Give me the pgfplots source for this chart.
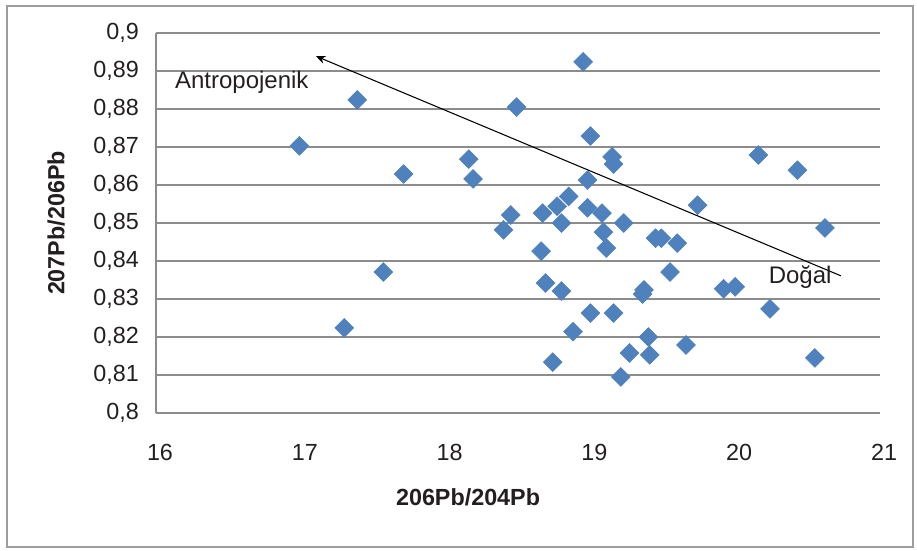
\documentclass[border=0pt]{standalone}
\usepackage{pgfplots}
\pgfplotsset{compat=1.18}
\usepackage{fontspec}
\setmainfont{Liberation Sans}
\usetikzlibrary{arrows.meta}
\definecolor{mk}{RGB}{79,129,189}
\definecolor{gr}{RGB}{140,140,140}
\definecolor{txt}{RGB}{35,31,32}
\begin{document}
\begin{tikzpicture}[x=0.75pt,y=0.75pt]
\useasboundingbox (-156,-137) rectangle (761,413);
\draw[gr!85, line width=1.5pt] (-149,-134) rectangle (757,407);
\begin{axis}[at={(0,0)}, anchor=south west, scale only axis,
  width=543pt, height=285pt,
  xmin=16, xmax=21, ymin=0.8, ymax=0.9,
  xtick={16,17,18,19,20,21},
  ytick={0.8,0.81,0.82,0.83,0.84,0.85,0.86,0.87,0.88,0.89,0.9},
  /pgf/number format/assume math mode=true,
  yticklabel style={/pgf/number format/use comma, /pgf/number format/fixed, /pgf/number format/precision=2},
  xticklabel style={anchor=center, yshift=-29.25pt, xshift=3pt},
  yticklabel style={anchor=east, inner sep=0pt, xshift=-12.75pt},
  major tick length=0pt,
  axis x line*=bottom, axis y line*=left,
  axis line style={gr, line width=1.5pt, -},
  ymajorgrids, grid style={gr, line width=1.3pt},
  tick label style={font=\fontsize{17.5}{20}\selectfont, text=txt},
  xlabel={206Pb/204Pb},
  ylabel={207Pb/206Pb},
  every axis x label/.style={at={(axis description cs:0.431,-0.221)}, anchor=center,
    font=\fontsize{17.5}{20}\selectfont\bfseries, text=txt},
  every axis y label/.style={at={(axis description cs:-0.138,0.5)}, anchor=center, rotate=90,
    font=\fontsize{17.5}{20}\selectfont\bfseries, text=txt},
  clip=false,
]
\addplot[only marks, mark=square*, mark size=5pt,
  mark options={rotate=45, fill=mk, draw=mk}] table {
x y
16.99 0.8703
17.39 0.8824
17.30 0.8224
17.57 0.8371
17.71 0.8629
18.16 0.8668
18.19 0.8616
18.49 0.8805
18.95 0.8924
18.40 0.8482
18.45 0.8521
18.67 0.8526
18.77 0.8544
18.85 0.8570
18.80 0.8500
18.66 0.8426
18.69 0.8342
18.80 0.8321
18.88 0.8214
18.74 0.8134
19.00 0.8729
18.98 0.8613
18.98 0.8540
19.08 0.8526
19.09 0.8476
19.11 0.8434
19.15 0.8674
19.16 0.8655
19.23 0.8500
19.00 0.8263
19.16 0.8263
19.27 0.8158
19.21 0.8095
19.36 0.8313
19.37 0.8324
19.40 0.8200
19.41 0.8153
19.45 0.8460
19.49 0.8460
19.60 0.8447
19.55 0.8371
19.66 0.8179
19.74 0.8547
19.92 0.8327
20.00 0.8332
20.16 0.8679
20.24 0.8274
20.43 0.8639
20.55 0.8145
20.62 0.8487
};
\draw[black, line width=0.8pt, -{Stealth[length=7pt,width=6pt]}]
  (axis cs:20.73,0.8361) -- (axis cs:17.105,0.8939);
\node[anchor=west, inner sep=0pt, text=txt, font=\fontsize{18}{21}\selectfont]
  at (axis cs:16.13,0.8871) {Antropojenik};
\node[anchor=west, inner sep=0pt, text=txt, font=\fontsize{18}{21}\selectfont]
  at (axis cs:20.23,0.8358) {Doğal};
\end{axis}
\end{tikzpicture}
\end{document}
